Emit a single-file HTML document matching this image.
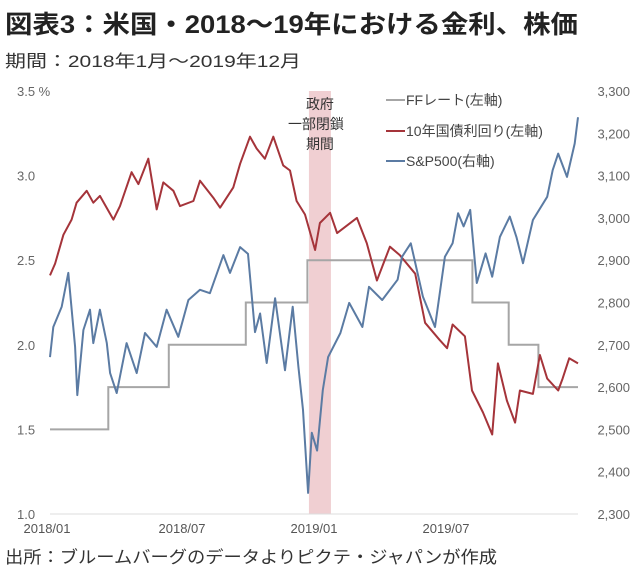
<!DOCTYPE html>
<html><head><meta charset="utf-8">
<style>
body{margin:0;background:#fff;width:636px;height:579px;overflow:hidden;font-family:"Liberation Sans","Noto Sans CJK JP",sans-serif;}
</style></head>
<body>
<svg width="636" height="579" xmlns="http://www.w3.org/2000/svg" style="font-family:'Liberation Sans','Noto Sans CJK JP',sans-serif">
<text x="5" y="33" font-size="25" font-weight="bold" fill="#222" textLength="573" lengthAdjust="spacingAndGlyphs">図表3：米国・2018～19年における金利、株価</text>
<text x="5" y="67" font-size="17" fill="#333" textLength="296" lengthAdjust="spacingAndGlyphs">期間：2018年1月～2019年12月</text>
<text x="5" y="563" font-size="17" fill="#333" textLength="492" lengthAdjust="spacingAndGlyphs">出所：ブルームバーグのデータよりピクテ・ジャパンが作成</text>
<g id="plot"></g>
</svg>
<script>
const leftTicks=[1.0,1.5,2.0,2.5,3.0,3.5];
const rightTicks=[2300,2400,2500,2600,2700,2800,2900,3000,3100,3200,3300];
const xTickMonths=[0,6,12,18];
const xTickLabels=["2018/01","2018/07","2019/01","2019/07"];
const shutdown=[11.77,12.77];
const ffMonths=[0,2.65,5.4,8.9,11.7,19.2,20.85,22.2,24];
const ffRates=[1.5,1.75,2.0,2.25,2.5,2.25,2.0,1.75,1.75];
const yMonths=[0,0.23,0.61,0.98,1.21,1.67,1.97,2.27,2.88,3.18,3.71,4.02,4.47,4.85,5.15,5.61,5.91,6.52,6.82,7.42,7.73,8.33,8.64,9.09,9.39,9.77,10.15,10.6,10.91,11.21,11.59,12.05,12.27,12.73,13.05,13.95,14.4,14.86,15.45,15.9,16.6,17.05,17.7,18.05,18.3,18.86,19.18,19.68,20.1,20.36,20.77,21.14,21.36,21.95,22.27,22.6,23.1,23.3,23.6,24];
const yields=[2.41,2.48,2.65,2.74,2.84,2.91,2.84,2.88,2.74,2.82,3.02,2.95,3.10,2.80,2.96,2.91,2.82,2.85,2.97,2.87,2.81,2.93,3.07,3.23,3.16,3.10,3.23,3.06,3.03,2.85,2.77,2.56,2.72,2.78,2.66,2.75,2.60,2.38,2.58,2.53,2.42,2.13,2.03,1.98,2.12,2.05,1.73,1.60,1.47,1.89,1.67,1.54,1.73,1.71,1.94,1.80,1.73,1.80,1.92,1.89];
const spMonths=[0,0.15,0.53,0.83,1.14,1.24,1.52,1.82,1.97,2.27,2.58,2.73,3.03,3.48,3.94,4.32,4.85,5.3,5.83,6.29,6.82,7.27,7.88,8.18,8.64,9.0,9.32,9.55,9.85,10.23,10.68,11.03,11.29,11.5,11.73,11.9,12.14,12.4,12.64,13.2,13.6,14.2,14.5,15.1,15.8,16.0,16.4,16.95,17.5,17.95,18.3,18.55,18.8,19.1,19.4,19.8,20.1,20.45,20.9,21.2,21.5,21.95,22.6,22.85,23.1,23.5,23.85,24];
const spx=[2671,2742,2790,2870,2695,2581,2735,2783,2704,2783,2704,2633,2586,2704,2633,2728,2695,2783,2719,2806,2830,2822,2912,2870,2931,2915,2730,2774,2657,2810,2640,2790,2648,2546,2350,2492,2450,2593,2671,2728,2799,2742,2837,2806,2854,2908,2940,2814,2742,2908,2940,3011,2980,3019,2846,2916,2861,2955,3003,2955,2893,2995,3050,3113,3152,3097,3176,3238,3227];

const X0=50,X1=578,YT=91,YB=514;
const xs=m=>X0+m*(X1-X0)/24;
const yl=v=>YB-(v-1.0)/2.5*(YB-YT);
const yr=v=>YB-(v-2300)/1000*(YB-YT);
const g=document.getElementById('plot');
const NS="http://www.w3.org/2000/svg";
function mk(tag,attrs,parent){const e=document.createElementNS(NS,tag);for(const k in attrs)e.setAttribute(k,attrs[k]);(parent||g).appendChild(e);return e;}

const band=mk('rect',{x:xs(shutdown[0]),y:YT,width:xs(shutdown[1])-xs(shutdown[0]),height:YB-YT,fill:'#f0cfd2'});


const bl=["政府","一部閉鎖","期間"];
bl.forEach((t,i)=>{const e=mk('text',{x:xs((shutdown[0]+shutdown[1])/2)+(i==1?-4:0),y:109+i*20,'font-size':14,fill:'#333','text-anchor':'middle'});e.textContent=t;

});

const base=mk('line',{x1:X0,x2:X1,y1:YB,y2:YB,stroke:'#ddd','stroke-width':1});



leftTicks.forEach(v=>{const e=mk('text',{x:17,y:yl(v)+5,'font-size':13,fill:'#666'});e.textContent=v.toFixed(1)+(v==3.5?' %':'');

});
rightTicks.forEach(v=>{const e=mk('text',{x:630,y:yr(v)+5,'font-size':13,fill:'#666','text-anchor':'end'});e.textContent=v.toLocaleString('en-US');

});
xTickMonths.forEach((m,i)=>{const e=mk('text',{x:xs(m)+(i==0?-3:0),y:533,'font-size':13,fill:'#555','text-anchor':'middle'});e.textContent=xTickLabels[i];

});

let ffd='';ffMonths.forEach((m,i)=>{if(i==0)ffd+='M'+xs(m)+','+yl(ffRates[i]);else ffd+='H'+xs(m)+'V'+yl(ffRates[i]);});
const ff=mk('path',{d:ffd,fill:'none',stroke:'#a6a6a6','stroke-width':2});



const yd=yMonths.map((m,i)=>(i?'L':'M')+xs(m).toFixed(1)+','+yl(yields[i]).toFixed(1)).join('');
const yline=mk('path',{d:yd,fill:'none',stroke:'#a5343a','stroke-width':2,'stroke-linejoin':'round'});



const sd=spMonths.map((m,i)=>(i?'L':'M')+xs(m).toFixed(1)+','+yr(spx[i]).toFixed(1)).join('');
const sline=mk('path',{d:sd,fill:'none',stroke:'#5b7ba3','stroke-width':2,'stroke-linejoin':'round'});



const leg=[["FFレート(左軸)","#a6a6a6",100],["10年国債利回り(左軸)","#a5343a",131],["S&P500(右軸)","#5b7ba3",161]];
leg.forEach(l=>{const ln=mk('line',{x1:386,x2:405,y1:l[2],y2:l[2],stroke:l[1],'stroke-width':2});


const t=mk('text',{x:406,y:l[2]+5,'font-size':14,fill:'#444'});t.textContent=l[0];

});
</script>
</body></html>
